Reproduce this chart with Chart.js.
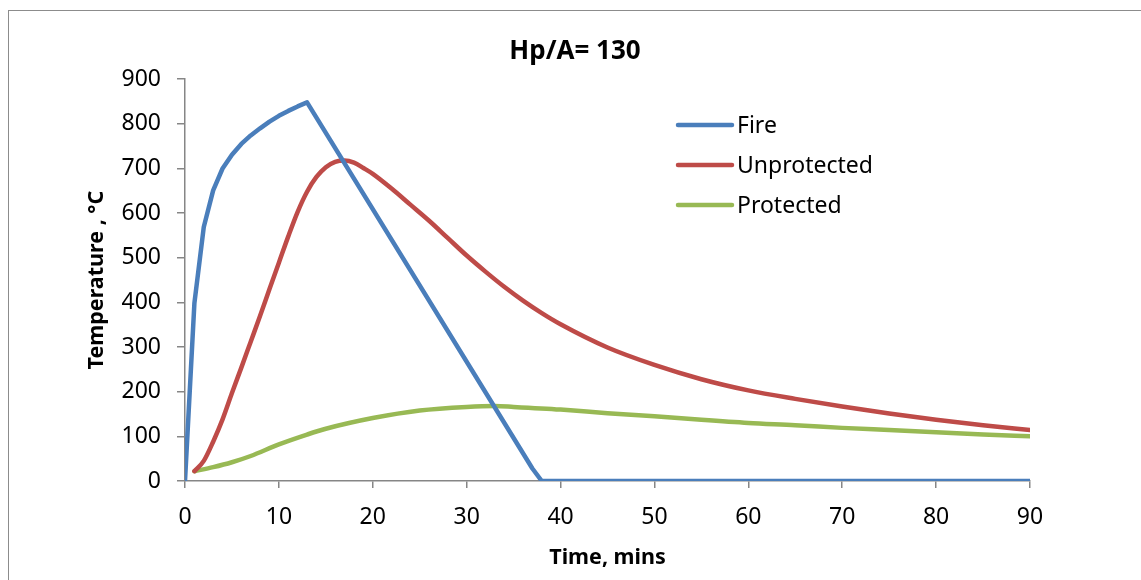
<!DOCTYPE html>
<html>
<head>
<meta charset="utf-8">
<script src="https://cdn.jsdelivr.net/npm/chart.js@4"></script>
<style>
  html, body { margin: 0; padding: 0; background: #fff; overflow: hidden; }
  #frame {
    position: absolute; left: 8px; top: 10px;
    width: 1132px; height: 569px;
    border-left: 1px solid #8c8c8c; border-top: 1px solid #8c8c8c;
  }
  canvas { display: block; }
</style>
</head>
<body>
<div id="frame"><canvas id="chart" width="1132" height="569"></canvas></div>
<script>
(function () {
  'use strict';

  var TITLE   = 'Hp/A= 130';
  var X_TITLE = 'Time, mins';
  var Y_TITLE = 'Temperature , \u00B0C';

  // Fire curve (straight segments)
  var fireT = [0, 1, 2, 3, 4, 5, 6, 7, 8, 9, 10, 11, 12, 13, 37, 38, 90];
  var fireV = [0, 398, 569, 651, 700, 731, 755, 774, 790, 805, 818, 829, 839, 848, 28, 0, 0];

  // Unprotected steel
  var unprotT = [1, 2, 3, 4, 5, 6, 7, 8, 9, 10, 11, 12, 13, 14, 15, 16, 17, 18, 19, 20,
                 22, 24, 26, 28, 30, 32, 34, 36, 38, 40, 45, 50, 55, 60, 65, 70, 75, 80, 85, 90];
  var unprotV = [22, 45, 88, 138, 197, 254, 312, 370, 430, 489, 548, 603, 648, 681, 703, 715, 718, 713, 701, 688,
                 655, 619, 583, 544, 505, 469, 435, 404, 376, 351, 299, 260, 228, 203, 184, 167, 151, 137, 125, 114];

  // Protected steel
  var protT = [1, 3, 5, 7, 10, 13, 15, 20, 25, 30, 33, 35, 40, 45, 50, 55, 60, 65, 70, 75, 80, 85, 90];
  var protV = [22, 31, 42, 56, 82, 104, 117, 141, 158, 166, 168, 166, 160, 152, 145, 137, 130, 125, 119, 114, 109, 104, 100];

  var xTicks = [0, 10, 20, 30, 40, 50, 60, 70, 80, 90];
  var yTicks = [0, 100, 200, 300, 400, 500, 600, 700, 800, 900];

  function pts(t, v) {
    return t.map(function (x, i) { return { x: x, y: v[i] }; });
  }

  var FONT = "'Noto Sans', 'Open Sans', sans-serif";
  var AXIS = '#868686';

  // legend drawn inside the plot, Excel style
  var insideLegend = {
    id: 'insideLegend',
    afterDatasetsDraw: function (chart) {
      var ctx = chart.ctx;
      var x0 = 669, y0 = 114, gap = 40;
      ctx.save();
      ctx.font = '23px ' + FONT;
      ctx.textBaseline = 'middle';
      chart.data.datasets.forEach(function (ds, i) {
        var y = y0 + i * gap;
        ctx.strokeStyle = ds.borderColor;
        ctx.lineWidth = 4.5;
        ctx.lineCap = 'round';
        ctx.beginPath();
        ctx.moveTo(x0, y);
        ctx.lineTo(x0 + 54, y);
        ctx.stroke();
        ctx.fillStyle = '#000';
        ctx.fillText(ds.label, x0 + 59, y + 1);
      });
      ctx.restore();
    }
  };

  var lineCommon = {
    pointRadius: 0,
    borderWidth: 4.5,
    borderCapStyle: 'round',
    borderJoinStyle: 'round',
    fill: false
  };

  new Chart(document.getElementById('chart'), {
    type: 'line',
    data: {
      datasets: [
        Object.assign({ label: 'Fire', data: pts(fireT, fireV), borderColor: '#4A7EBB', tension: 0 }, lineCommon),
        Object.assign({ label: 'Unprotected', data: pts(unprotT, unprotV), borderColor: '#BE4B48', cubicInterpolationMode: 'monotone' }, lineCommon),
        Object.assign({ label: 'Protected', data: pts(protT, protV), borderColor: '#98B954', cubicInterpolationMode: 'monotone' }, lineCommon)
      ]
    },
    options: {
      responsive: false,
      animation: false,
      layout: { padding: 0 },
      plugins: {
        legend: { display: false },
        tooltip: { enabled: false },
        title: {
          display: true,
          text: TITLE,
          color: '#000',
          font: { family: FONT, size: 26, weight: 'bold' },
          padding: { top: 25, bottom: 12 }
        }
      },
      scales: {
        x: {
          type: 'linear',
          min: 0, max: 90,
          afterFit: function (s) { s.height = 99; },
          afterBuildTicks: function (s) { s.ticks = xTicks.map(function (v) { return { value: v }; }); },
          border: { display: true, color: AXIS, width: 1.5 },
          grid: { drawOnChartArea: false, drawTicks: true, tickLength: 7, color: AXIS, lineWidth: 1.5 },
          ticks: { color: '#000', font: { family: FONT, size: 23 }, padding: 16, maxRotation: 0 },
          title: {
            display: true, text: X_TITLE, color: '#000',
            font: { family: FONT, size: 21.5, weight: 'bold' },
            padding: { top: 0, bottom: 9 }
          }
        },
        y: {
          min: 0, max: 900,
          afterFit: function (s) { s.width = 176; },
          afterBuildTicks: function (s) { s.ticks = yTicks.map(function (v) { return { value: v }; }); },
          border: { display: true, color: AXIS, width: 1.5 },
          grid: { drawOnChartArea: false, drawTicks: true, tickLength: 8, color: AXIS, lineWidth: 1.5 },
          ticks: { color: '#000', font: { family: FONT, size: 23 }, padding: 16 },
          title: {
            display: true, text: Y_TITLE, color: '#000',
            font: { family: FONT, size: 21.5, weight: 'bold' },
            padding: { top: 75, bottom: 0 }
          }
        },
        // empty right-hand box so the plot ends where the original does
        spacer: {
          type: 'linear',
          position: 'right',
          afterFit: function (s) { s.width = 111; },
          border: { display: false },
          grid: { display: false },
          ticks: { display: false }
        }
      }
    },
    plugins: [insideLegend]
  });
})();
</script>
</body>
</html>
